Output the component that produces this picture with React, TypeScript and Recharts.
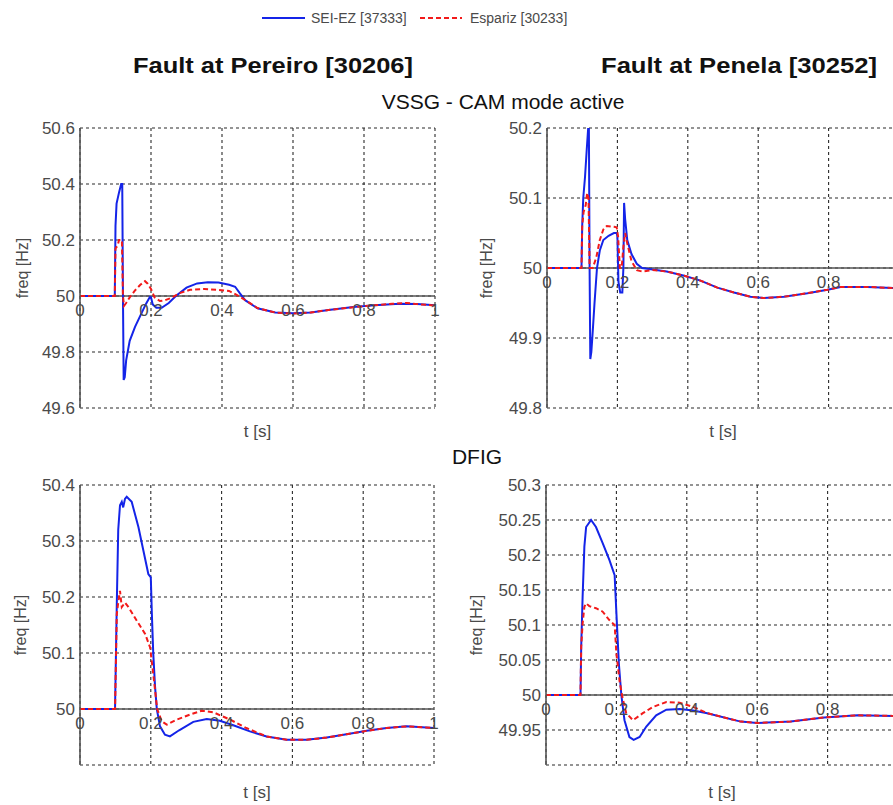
import React from 'react';
import { LineChart, Line, XAxis, YAxis, CartesianGrid, ReferenceLine, ReferenceDot, Label } from 'recharts';

// Frequency response at two buses after a fault, VSSG vs DFIG
type Pt = [number, number];

const SEI_COLOR = '#1424e8';
const ESP_COLOR = '#f21a1a';
const TEXT = '#4a4a4a';
const FONT = '"Liberation Sans", Arial, sans-serif';

const seriesNames = ['SEI-EZ [37333]', 'Espariz [30233]'];

const timeTicks = [0, 0.2, 0.4, 0.6, 0.8, 1];
const timeTickLabels = ['0', '0.2', '0.4', '0.6', '0.8', '1'];

const vssgPereiroTicks = [49.6, 49.8, 50, 50.2, 50.4, 50.6];
const vssgPereiroLabels = ['49.6', '49.8', '50', '50.2', '50.4', '50.6'];
const vssgPenelaTicks = [49.8, 49.9, 50, 50.1, 50.2];
const vssgPenelaLabels = ['49.8', '49.9', '50', '50.1', '50.2'];
const dfigPereiroTicks = [49.9, 50, 50.1, 50.2, 50.3, 50.4];
const dfigPereiroLabels = ['', '50', '50.1', '50.2', '50.3', '50.4'];
const dfigPenelaTicks = [49.9, 49.95, 50, 50.05, 50.1, 50.15, 50.2, 50.25, 50.3];
const dfigPenelaLabels = ['', '49.95', '50', '50.05', '50.1', '50.15', '50.2', '50.25', '50.3'];

// VSSG, fault at Pereiro
const vssgPereiroSei: Pt[] = [
  [0, 50], [0.098, 50], [0.1, 50.25], [0.103, 50.33], [0.11, 50.37], [0.116, 50.4], [0.119, 50.4],
  [0.121, 50.0], [0.123, 49.7], [0.126, 49.71], [0.13, 49.77], [0.14, 49.84], [0.155, 49.89],
  [0.17, 49.93], [0.185, 49.97], [0.197, 49.997], [0.2, 49.995], [0.205, 49.97], [0.215, 49.958],
  [0.23, 49.958], [0.25, 49.975], [0.27, 50.0], [0.3, 50.03], [0.33, 50.045], [0.36, 50.049],
  [0.39, 50.048], [0.42, 50.04], [0.437, 50.033], [0.45, 50.01], [0.465, 49.985], [0.5, 49.956],
  [0.55, 49.941], [0.6, 49.938], [0.65, 49.941], [0.7, 49.95], [0.77, 49.961], [0.83, 49.967],
  [0.9, 49.972], [0.95, 49.971], [1.0, 49.967],
];
const vssgPereiroEsp: Pt[] = [
  [0, 50], [0.098, 50], [0.1, 50.17], [0.106, 50.18], [0.11, 50.2], [0.118, 50.2], [0.121, 50.0],
  [0.124, 49.965], [0.13, 49.975], [0.14, 49.995], [0.155, 50.02], [0.17, 50.04], [0.183, 50.053],
  [0.19, 50.045], [0.2, 50.025], [0.21, 49.995], [0.225, 49.982], [0.24, 49.985], [0.26, 49.995],
  [0.28, 50.01], [0.31, 50.022], [0.35, 50.025], [0.39, 50.022], [0.42, 50.018], [0.44, 50.005],
  [0.46, 49.99], [0.5, 49.957], [0.55, 49.941], [0.6, 49.937], [0.65, 49.941], [0.7, 49.95],
  [0.77, 49.96], [0.83, 49.967], [0.88, 49.972], [0.92, 49.975], [0.95, 49.971], [1.0, 49.966],
];

// VSSG, fault at Penela
const vssgPenelaSei: Pt[] = [
  [0, 50], [0.098, 50], [0.1, 50.06], [0.103, 50.1], [0.108, 50.13], [0.113, 50.17], [0.117, 50.2],
  [0.119, 50.2], [0.121, 50.0], [0.123, 49.87], [0.126, 49.88], [0.13, 49.91], [0.135, 49.95],
  [0.142, 50.0], [0.15, 50.025], [0.16, 50.04], [0.175, 50.046], [0.19, 50.05], [0.198, 50.05],
  [0.2, 50.045], [0.203, 49.98], [0.208, 49.965], [0.214, 49.965], [0.217, 50.0], [0.219, 50.093],
  [0.222, 50.07], [0.228, 50.04], [0.24, 50.02], [0.255, 50.006], [0.27, 50.0], [0.3, 49.998],
  [0.34, 49.995], [0.39, 49.989], [0.436, 49.982], [0.484, 49.972], [0.531, 49.965], [0.578, 49.959],
  [0.616, 49.957], [0.673, 49.959], [0.74, 49.964], [0.797, 49.969], [0.834, 49.973], [0.91, 49.973],
  [1.0, 49.971],
];
const vssgPenelaEsp: Pt[] = [
  [0, 50], [0.098, 50], [0.1, 50.06], [0.104, 50.08], [0.11, 50.09], [0.114, 50.107], [0.118, 50.1],
  [0.121, 50.0], [0.13, 50.0], [0.14, 50.015], [0.15, 50.04], [0.16, 50.055], [0.17, 50.06],
  [0.19, 50.059], [0.198, 50.058], [0.202, 50.045], [0.207, 50.0], [0.212, 50.0], [0.217, 50.03],
  [0.222, 50.05], [0.228, 50.035], [0.24, 50.01], [0.255, 49.997], [0.27, 49.995], [0.3, 49.997],
  [0.34, 49.995], [0.39, 49.989], [0.436, 49.982], [0.484, 49.972], [0.531, 49.965], [0.578, 49.959],
  [0.616, 49.957], [0.673, 49.959], [0.74, 49.964], [0.797, 49.969], [0.834, 49.973], [0.91, 49.973],
  [1.0, 49.971],
];

// DFIG, fault at Pereiro
const dfigPereiroSei: Pt[] = [
  [0, 50], [0.099, 50], [0.104, 50.19], [0.108, 50.32], [0.113, 50.364], [0.118, 50.37],
  [0.122, 50.36], [0.127, 50.375], [0.132, 50.379], [0.146, 50.37], [0.165, 50.325], [0.179, 50.283],
  [0.193, 50.241], [0.2, 50.235], [0.203, 50.17], [0.207, 50.098], [0.212, 50.04], [0.217, 50.0],
  [0.226, 49.969], [0.24, 49.954], [0.254, 49.951], [0.28, 49.962], [0.32, 49.977], [0.358, 49.982],
  [0.395, 49.979], [0.433, 49.971], [0.48, 49.96], [0.527, 49.951], [0.584, 49.945], [0.64, 49.945],
  [0.697, 49.949], [0.753, 49.955], [0.81, 49.961], [0.866, 49.966], [0.923, 49.969], [1.0, 49.966],
];
const dfigPereiroEsp: Pt[] = [
  [0, 50], [0.099, 50], [0.104, 50.17], [0.108, 50.19], [0.113, 50.211], [0.118, 50.182],
  [0.127, 50.19], [0.137, 50.182], [0.16, 50.158], [0.184, 50.134], [0.198, 50.11], [0.207, 50.062],
  [0.218, 50.0], [0.231, 49.978], [0.245, 49.972], [0.273, 49.981], [0.311, 49.99], [0.344, 49.997],
  [0.377, 49.994], [0.424, 49.981], [0.47, 49.966], [0.527, 49.951], [0.584, 49.945], [0.64, 49.945],
  [0.697, 49.949], [0.753, 49.955], [0.81, 49.961], [0.866, 49.966], [0.923, 49.969], [1.0, 49.966],
];

// DFIG, fault at Penela
const dfigPenelaSei: Pt[] = [
  [0, 50], [0.098, 50], [0.1, 50.069], [0.104, 50.14], [0.109, 50.212], [0.114, 50.24], [0.128, 50.25],
  [0.142, 50.24], [0.161, 50.217], [0.18, 50.193], [0.195, 50.171], [0.2, 50.117], [0.207, 50.045],
  [0.214, 50.0], [0.223, 49.964], [0.237, 49.94], [0.249, 49.936], [0.266, 49.94], [0.285, 49.955],
  [0.313, 49.971], [0.342, 49.979], [0.38, 49.98], [0.418, 49.978], [0.458, 49.974], [0.553, 49.962],
  [0.6, 49.96], [0.695, 49.962], [0.79, 49.968], [0.885, 49.971], [1.0, 49.97],
];
const dfigPenelaEsp: Pt[] = [
  [0, 50], [0.098, 50], [0.1, 50.069], [0.104, 50.102], [0.109, 50.126], [0.114, 50.131],
  [0.123, 50.127], [0.142, 50.124], [0.161, 50.119], [0.18, 50.107], [0.195, 50.1], [0.2, 50.059],
  [0.209, 50.02], [0.217, 49.997], [0.228, 49.974], [0.247, 49.964], [0.275, 49.974], [0.304, 49.983],
  [0.342, 49.99], [0.38, 49.989], [0.418, 49.983], [0.458, 49.974], [0.553, 49.962], [0.6, 49.96],
  [0.695, 49.962], [0.79, 49.968], [0.885, 49.971], [1.0, 49.97],
];

const toRows = (pts: Pt[]) => pts.map(([t, f]) => ({ t, f }));

// x tick labels sit on the 50 Hz line, so the axis itself draws nothing
const NoTick = () => null;

type PanelProps = {
  left: number;
  top: number;
  width: number;
  rightMargin: number;
  yTicks: number[];
  yLabels: string[];
  sei: Pt[];
  esp: Pt[];
  labelGap: number;
  timeLabelOffset: number;
  lastTimeLabel?: boolean;
};

function FreqPanel({
  left, top, width, rightMargin, yTicks, yLabels, sei, esp, labelGap, timeLabelOffset, lastTimeLabel = true,
}: PanelProps) {
  const yDomain = [yTicks[0], yTicks[yTicks.length - 1]];
  const fmt = (v: number) => {
    const i = yTicks.findIndex((t) => Math.abs(t - v) < 1e-9);
    return i >= 0 ? yLabels[i] : '';
  };
  const shownTimeTicks = lastTimeLabel ? timeTicks : timeTicks.slice(0, -1);
  return (
    <div style={{ position: 'absolute', left, top }}>
      <LineChart
        width={width}
        height={350}
        margin={{ top: 28, right: rightMargin, bottom: 2, left: 0 }}
        style={{ fontFamily: FONT }}
      >
        <CartesianGrid stroke="#2a2a2a" strokeDasharray="3 3" strokeWidth={1.1} />
        <XAxis
          dataKey="t"
          type="number"
          domain={[0, 1]}
          ticks={timeTicks}
          interval={0}
          allowDataOverflow
          axisLine={false}
          tickLine={false}
          tick={<NoTick />}
          height={40}
        >
          <Label value="t [s]" position="insideTop" offset={timeLabelOffset} fill={TEXT} fontSize={17} />
        </XAxis>
        <YAxis
          type="number"
          domain={yDomain}
          ticks={yTicks}
          allowDataOverflow
          interval={0}
          width={80}
          tickLine={false}
          tickSize={3}
          tickMargin={2}
          axisLine={{ stroke: '#555', strokeWidth: 1.6 }}
          tick={{ fill: TEXT, fontSize: 17 }}
          tickFormatter={fmt}
        >
          <Label
            content={(p: any) => {
              const vb = p.viewBox;
              const x = vb.x + vb.width - labelGap;
              const y = vb.y + vb.height / 2;
              return (
                <text
                  x={x}
                  y={y}
                  transform={`rotate(-90, ${x}, ${y})`}
                  textAnchor="middle"
                  dominantBaseline="central"
                  fill={TEXT}
                  fontSize={16}
                >
                  freq [Hz]
                </text>
              );
            }}
          />
        </YAxis>
        <ReferenceLine y={50} stroke="#555" strokeWidth={1.6} />
        {shownTimeTicks.map((t, i) => (
          <ReferenceDot
            key={t}
            x={t}
            y={50}
            r={0}
            fill="none"
            stroke="none"
            label={{ value: timeTickLabels[i], position: 'bottom', offset: 8, fill: TEXT, fontSize: 17 }}
          />
        ))}
        <Line
          data={toRows(sei)}
          dataKey="f"
          name={seriesNames[0]}
          type="linear"
          stroke={SEI_COLOR}
          strokeWidth={2}
          dot={false}
          isAnimationActive={false}
        />
        <Line
          data={toRows(esp)}
          dataKey="f"
          name={seriesNames[1]}
          type="linear"
          stroke={ESP_COLOR}
          strokeWidth={2}
          strokeDasharray="5 3"
          dot={false}
          isAnimationActive={false}
        />
      </LineChart>
    </div>
  );
}

export default function App() {
  return (
    <div
      style={{
        position: 'absolute',
        left: 0,
        top: 0,
        width: 893,
        height: 805,
        overflow: 'hidden',
        background: '#fff',
        fontFamily: FONT,
      }}
    >
      <svg width={893} height={805} style={{ position: 'absolute', left: 0, top: 0 }}>
        {/* legend */}
        <line x1={262} y1={18} x2={305} y2={18} stroke={SEI_COLOR} strokeWidth={2} />
        <text x={311} y={23} fontSize={14} fill={TEXT}>{seriesNames[0]}</text>
        <line x1={420} y1={18} x2={462} y2={18} stroke={ESP_COLOR} strokeWidth={2} strokeDasharray="5 3" />
        <text x={470} y={23} fontSize={14} fill={TEXT}>{seriesNames[1]}</text>
        {/* panel titles */}
        <text x={133} y={73} fontSize={22} fontWeight="bold" fill="#111" textLength={280} lengthAdjust="spacingAndGlyphs">
          Fault at Pereiro [30206]
        </text>
        <text x={601} y={73} fontSize={22} fontWeight="bold" fill="#111" textLength={276} lengthAdjust="spacingAndGlyphs">
          Fault at Penela [30252]
        </text>
        <text x={503} y={109} fontSize={21} textAnchor="middle" fill="#111">VSSG - CAM mode active</text>
        <text x={477} y={464} fontSize={21} textAnchor="middle" fill="#111">DFIG</text>
      </svg>
      <FreqPanel left={0} top={100} width={450} rightMargin={15} yTicks={vssgPereiroTicks} yLabels={vssgPereiroLabels} sei={vssgPereiroSei} esp={vssgPereiroEsp} labelGap={58} timeLabelOffset={17} />
      <FreqPanel left={467} top={100} width={432} rightMargin={0} yTicks={vssgPenelaTicks} yLabels={vssgPenelaLabels} sei={vssgPenelaSei} esp={vssgPenelaEsp} labelGap={61} timeLabelOffset={17} lastTimeLabel={false} />
      <FreqPanel left={0} top={457} width={450} rightMargin={16} yTicks={dfigPereiroTicks} yLabels={dfigPereiroLabels} sei={dfigPereiroSei} esp={dfigPereiroEsp} labelGap={60} timeLabelOffset={21} />
      <FreqPanel left={466} top={457} width={432} rightMargin={0} yTicks={dfigPenelaTicks} yLabels={dfigPenelaLabels} sei={dfigPenelaSei} esp={dfigPenelaEsp} labelGap={70} timeLabelOffset={21} lastTimeLabel={false} />
    </div>
  );
}
